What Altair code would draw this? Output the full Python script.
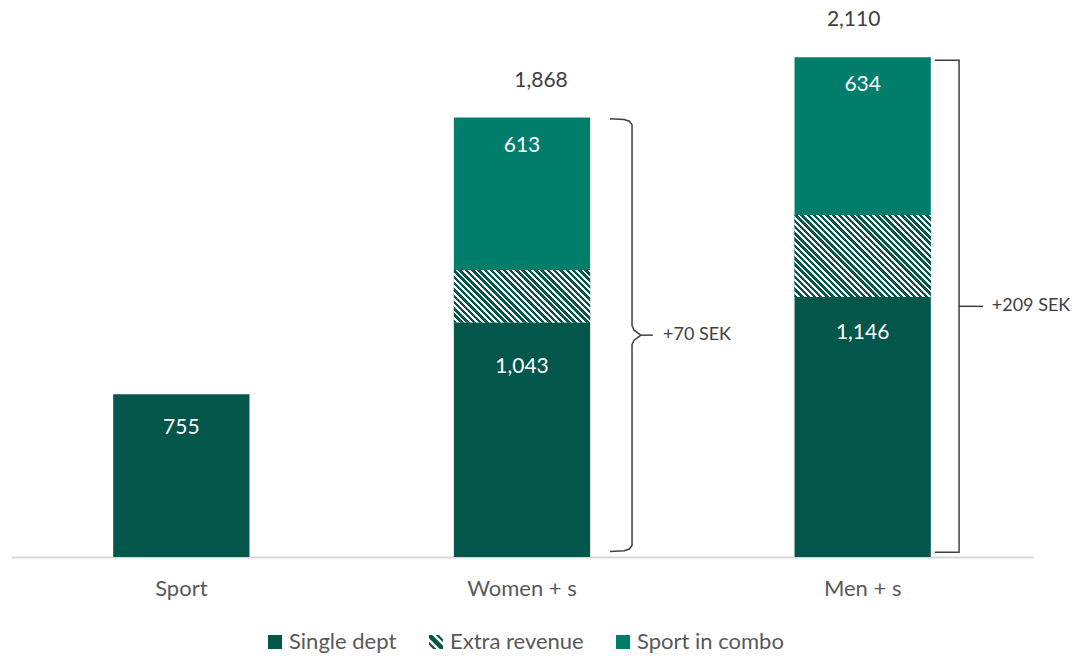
import altair as alt
import pandas as pd

# ---------------- data ----------------
categories = ["Sport", "Women + s", "Men + s"]
segments = ["Single dept", "Extra revenue", "Sport in combo"]
single_dept = [755, 1043, 1146]
extra_revenue = [None, 212, 330]
sport_in_combo = [None, 613, 634]
totals = [None, 1868, 2110]
bracket_labels = [None, "+70 SEK", "+209 SEK"]
bracket_top = [None, 1863, 2098]
bracket_bottom = [None, 122, 119]

# ---------------- style ----------------
FONT = "Lato"
DARK = "#03564A"
COMBO = "#007E6B"
TEXT_GREY = "#595959"
TEXT_DARK = "#404040"
PLOT_W, PLOT_H = 1022, 522
Y_MIN, Y_MAX = 100, 2200
PAD_IN, PAD_OUT = 0.6, 0.3
TOTAL_DX = [0, 19, -9]      # horizontal nudge of the total labels (style)
SINGLE_DY = [34, 44, 36]    # label offsets below the segment top (style)

rows = []
for i, c in enumerate(categories):
    start = 0
    for seg, vals in zip(segments, [single_dept, extra_revenue, sport_in_combo]):
        v = vals[i]
        if v is None:
            continue
        rows.append(dict(category=c, segment=seg, value=v, start=start,
                         end=start + v, mid=start + v / 2))
        start += v
df = pd.DataFrame(rows)

df_tot = pd.DataFrame([dict(category=c, total=t) for c, t in zip(categories, totals) if t is not None])

color_scale = alt.Scale(domain=segments, range=[DARK, DARK, COMBO])
STRIPES = ("M-1,-1L-0.55,-1L1,0.55L1,1L0.55,1L-1,-0.55Z "
           "M-0.05,-1L0.4,-1L1,-0.4L1,0.05Z "
           "M-1,-0.05L-1,0.4L-0.4,1L0.05,1Z")
shape_scale = alt.Scale(domain=segments, range=["square", STRIPES, "square"])

x_band = alt.X("category:N", sort=categories,
               scale=alt.Scale(paddingInner=PAD_IN, paddingOuter=PAD_OUT),
               axis=alt.Axis(title=None, labelAngle=0, ticks=False, tickSize=0,
                             domainColor="#d9d9d9", domainWidth=2,
                             labelFontSize=22, labelColor=TEXT_GREY, labelFont=FONT,
                             labelPadding=21, grid=False))
y_scale = alt.Scale(domain=[Y_MIN, Y_MAX], clamp=True, nice=False, zero=False)

base = alt.Chart(df)


def legend_cfg():
    return alt.Legend(orient="none", direction="horizontal",
                      legendX=253, legendY=596, title=None,
                      labelFontSize=22, labelFont=FONT,
                      labelColor=TEXT_GREY, symbolSize=196,
                      symbolStrokeWidth=0, columnPadding=28,
                      labelOffset=3, padding=0)


# legend carrier (drawn beneath the bars)
legend_pts = base.mark_point(filled=True, size=4, opacity=1).encode(
    x=x_band,
    y=alt.Y("mid:Q", scale=y_scale, axis=None),
    color=alt.Color("segment:N", scale=color_scale, title=None, legend=legend_cfg()),
    shape=alt.Shape("segment:N", scale=shape_scale, title=None, legend=legend_cfg()),
)

bars = base.mark_bar().encode(
    x=x_band,
    y=alt.Y("start:Q", scale=y_scale, axis=None),
    y2="end:Q",
    color=alt.Color("segment:N", scale=color_scale, legend=None),
)

# hatched "Extra revenue" segments: striped gradient at 45 degrees
px_per_unit = PLOT_H / (Y_MAX - Y_MIN)
step = PLOT_W / (len(categories) - PAD_IN + 2 * PAD_OUT)
bar_w = step * (1 - PAD_IN)
period = 6.3


def hatch(value):
    h = value * px_per_unit
    r = h / bar_w
    k = (1 + r) / (1 + r * r)
    n = max(1, round((bar_w + h) / period))
    stops = []
    for j in range(n):
        a, b, c = j / n, (j + 0.55) / n, (j + 1) / n
        stops += [alt.GradientStop(offset=a, color=DARK), alt.GradientStop(offset=b, color=DARK),
                  alt.GradientStop(offset=b, color="white"), alt.GradientStop(offset=c, color="white")]
    return alt.LinearGradient(gradient="linear", stops=stops, x1=0, y1=1, x2=k, y2=1 - k * r)


hatch_layers = []
for c, v in zip(categories, extra_revenue):
    if v is None:
        continue
    hatch_layers.append(
        base.transform_filter((alt.datum.category == c) & (alt.datum.segment == "Extra revenue"))
        .mark_bar(fill=hatch(v))
        .encode(x=x_band, y=alt.Y("start:Q", scale=y_scale, axis=None), y2="end:Q")
    )

label_layers = []
for c, dy in zip(categories, SINGLE_DY):
    label_layers.append(
        base.transform_filter((alt.datum.segment == "Single dept") & (alt.datum.category == c))
        .mark_text(baseline="middle", dy=dy, color="white", fontSize=21, font=FONT)
        .encode(x=x_band, y=alt.Y("end:Q", scale=y_scale, axis=None),
                text=alt.Text("value:Q", format=","))
    )

lab_combo = base.transform_filter(alt.datum.segment == "Sport in combo").mark_text(
    baseline="middle", dy=28, color="white", fontSize=21, font=FONT
).encode(x=x_band, y=alt.Y("end:Q", scale=y_scale, axis=None), text=alt.Text("value:Q", format=","))

for c, t, dx in zip(categories, totals, TOTAL_DX):
    if t is None:
        continue
    label_layers.append(
        alt.Chart(df_tot).transform_filter(alt.datum.category == c)
        .mark_text(baseline="middle", dy=-37, dx=dx, color=TEXT_DARK, fontSize=21, font=FONT)
        .encode(x=x_band, y=alt.Y("total:Q", scale=y_scale, axis=None),
                text=alt.Text("total:Q", format=","))
    )

main = alt.layer(legend_pts, bars, *hatch_layers, lab_combo, *label_layers)

# ---------------- brackets (annotation) ----------------
ann_rows = []
txt_rows = []
for i, c in enumerate(categories):
    if bracket_top[i] is None:
        continue
    top, bot = bracket_top[i], bracket_bottom[i]
    mid = (top + bot) / 2
    if i == 1:  # curly brace
        pts = [(1.758, top), (1.800, top - 3), (1.815, top - 10), (1.823, top - 24),
               (1.823, mid + 38), (1.829, mid + 20), (1.849, mid), (1.829, mid - 20),
               (1.823, mid - 38), (1.823, bot + 24), (1.815, bot + 10), (1.800, bot + 3),
               (1.758, bot)]
        lead = [(1.849, mid), (1.884, mid)]
        tx = 1.914
    else:  # square bracket
        pts = [(2.712, top), (2.783, top), (2.783, bot), (2.712, bot)]
        lead = [(2.783, mid), (2.853, mid)]
        tx = 2.879
    for s, (ax, v) in enumerate(pts):
        ann_rows.append(dict(path=f"{c}-b", seq=s, ax=ax, v=v))
    for s, (ax, v) in enumerate(lead):
        ann_rows.append(dict(path=f"{c}-l", seq=s, ax=ax, v=v))
    txt_rows.append(dict(ax=tx, v=mid, label=bracket_labels[i]))

df_ann = pd.DataFrame(ann_rows)
df_txt = pd.DataFrame(txt_rows)
x_q = alt.X("ax:Q", scale=alt.Scale(domain=[0, len(categories)], nice=False, zero=False), axis=None)

ann_lines = alt.Chart(df_ann).mark_line(color=TEXT_DARK, strokeWidth=1.5).encode(
    x=x_q, y=alt.Y("v:Q", scale=y_scale, axis=None), detail="path:N", order="seq:Q")
ann_text = alt.Chart(df_txt).mark_text(align="left", baseline="middle", fontSize=18,
                                       color=TEXT_DARK, font=FONT).encode(
    x=x_q, y=alt.Y("v:Q", scale=y_scale, axis=None), text="label:N")

chart = alt.layer(main, alt.layer(ann_lines, ann_text)).resolve_scale(x="independent").properties(
    width=PLOT_W, height=PLOT_H,
    padding={"left": 11, "top": 35, "right": 41, "bottom": 99},
    autosize=alt.AutoSizeParams(type="none"),
    background="white",
).configure_view(stroke=None, strokeWidth=0)

chart.save("out.html", embed_options={"renderer": "svg", "actions": False})
